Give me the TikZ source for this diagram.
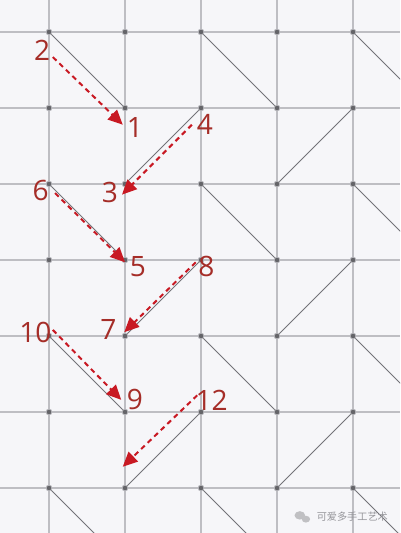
\documentclass[tikz,border=0pt]{standalone}
\usepackage{fontspec}
\setmainfont{Open Sans}
\newfontfamily\cjk{Noto Sans CJK SC}
\usetikzlibrary{arrows.meta}

\definecolor{paper}{RGB}{246,246,249}
\definecolor{gridgray}{RGB}{190,190,195}
\definecolor{linegray}{RGB}{115,115,120}
\definecolor{dotgray}{RGB}{100,100,105}
\definecolor{arrowred}{RGB}{200,25,35}
\definecolor{numred}{RGB}{165,45,40}
\definecolor{markgray}{RGB}{150,150,155}

\tikzset{
  gridline/.style={gridgray,line width=0.45pt},
  foldline/.style={linegray,line width=0.35pt},
  redarrow/.style={arrowred,line width=0.75pt,dash pattern=on 1.9pt off 1.5pt,
    -{Triangle[length=5.5pt,width=5pt]}},
  num/.style={numred,font=\fontsize{10.5}{12}\selectfont,inner sep=0pt}
}

\begin{document}
\begin{tikzpicture}

            \fill[paper] (-0.645,0.421) rectangle (4.618,-6.592);
            \useasboundingbox (-0.645,0.421) rectangle (4.618,-6.592);
            \clip (-0.645,0.421) rectangle (4.618,-6.592);
             %grid points
                 \foreach \i in {0,...,5}
                     \foreach \j in {0,...,7}
                         \coordinate (p-\i-\j) at (\i,-\j);
                 \foreach \i in {0,...,4}
                     \draw[gridline] (\i,0.421) -- (\i,-6.592);
                 \foreach \j in {0,...,6}
                     \draw[gridline] (-0.645,-\j) -- (4.618,-\j);
             %fold lines
                 \foreach \i/\k in {0/1,2/3,4/5}
                     \foreach \j/\l in {0/1,2/3,4/5,6/7}
                         \draw[foldline] (p-\i-\j) -- (p-\k-\l);
                 \foreach \i/\k in {1/2,3/4}
                     \foreach \j/\l in {1/2,3/4,5/6}
                         \draw[foldline] (p-\i-\l) -- (p-\k-\j);
                 \foreach \i in {0,...,4}
                     \foreach \j in {0,...,6}
                         \filldraw[fill=dotgray,draw=gridgray,line width=0.3pt] (p-\i-\j) circle (1.1pt);
             %numbers
            \node[num] (n2) at (-0.09,-0.24) {2};
            \node[num] (n1) at (1.13,-1.25) {1};
            \node[num] (n4) at (2.05,-1.22) {4};
            \node[num] (n3) at (0.80,-2.11) {3};
            \node[num] (n6) at (-0.11,-2.09) {6};
            \node[num] (n5) at (1.17,-3.09) {5};
            \node[num] (n8) at (2.07,-3.09) {8};
            \node[num] (n7) at (0.78,-3.92) {7};
            \node[num] (n10) at (-0.18,-3.96) {10};
            \node[num] (n9) at (1.13,-4.84) {9};
            \node[num] (n12) at (2.14,-4.84) {12};
             %arrows
            \coordinate (s2) at (0.05,-0.33);  \coordinate (t1) at (0.97,-1.22);
            \coordinate (s4) at (1.88,-1.22);  \coordinate (t3) at (0.96,-2.14);
            \coordinate (s6) at (0.08,-2.12);  \coordinate (t5) at (1.00,-3.03);
            \coordinate (s8) at (1.93,-3.03);  \coordinate (t7) at (0.99,-3.95);
            \coordinate (s10) at (0.05,-3.92); \coordinate (t9) at (0.95,-4.84);
            \coordinate (s12) at (1.95,-4.78); \coordinate (t11) at (0.97,-5.72);
            \draw[redarrow] (s2) -- (t1);
            \draw[redarrow] (s4) -- (t3);
            \draw[redarrow] (s6) -- (t5);
            \draw[redarrow] (s8) -- (t7);
            \draw[redarrow] (s10) -- (t9);
            \draw[redarrow] (s12) -- (t11);
             %watermark
            \node[markgray,font=\cjk\fontsize{3.8}{4.5}\selectfont] (mark) at (3.99,-6.38) {可爱多手工艺术};
            \fill[markgray!60] (3.30,-6.36) ellipse (0.07 and 0.055);
            \fill[markgray!60] (3.38,-6.41) ellipse (0.055 and 0.045);
             \end{tikzpicture}
\end{document}
